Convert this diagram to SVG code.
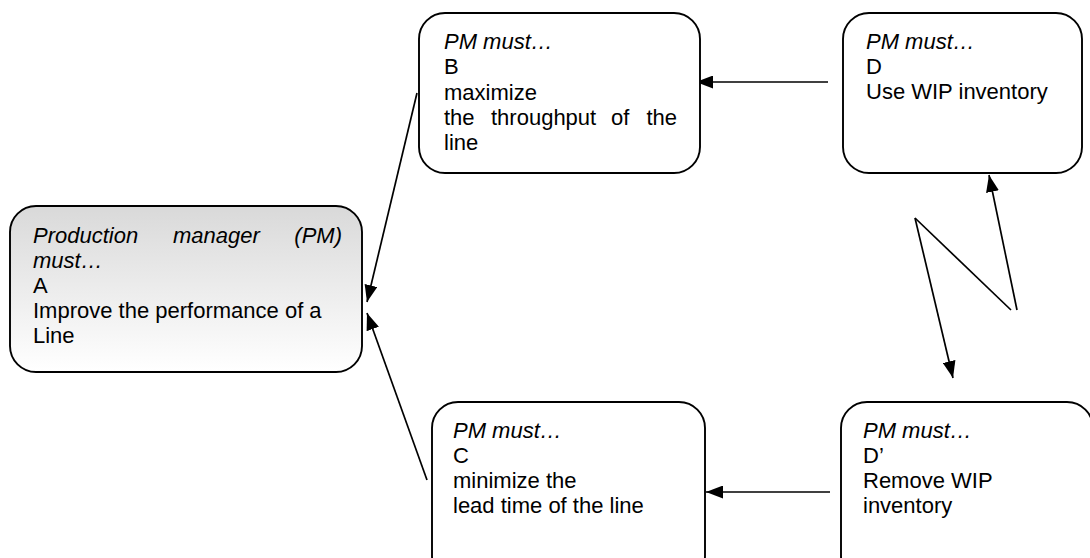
<svg xmlns="http://www.w3.org/2000/svg" width="1090" height="558" viewBox="0 0 1090 558">
<style>
.box{fill:#fff;stroke:#000;stroke-width:1.9}
.t{font-family:"Liberation Sans",Arial,sans-serif;font-size:22px;fill:#000}
.i{font-style:italic}
.c{fill:none;stroke:#000;stroke-width:1.7}
</style>
<defs>
<linearGradient id="g" x1="0" y1="0" x2="0" y2="1">
<stop offset="0" stop-color="#d9d9d9"/>
<stop offset="1" stop-color="#ffffff"/>
</linearGradient>
<marker id="arr" markerWidth="17" markerHeight="13" refX="17" refY="6.5" orient="auto" markerUnits="userSpaceOnUse">
<path d="M0,0 L17,6.5 L0,13 z" fill="#000"/>
</marker>
</defs>
<rect width="1090" height="558" fill="#fff"/>
<g id="connectors">
<line class="c" x1="417" y1="93" x2="367" y2="302" marker-end="url(#arr)"/>
<line class="c" x1="427" y1="480" x2="367" y2="313" marker-end="url(#arr)"/>
<line class="c" x1="828" y1="82" x2="696" y2="82" marker-end="url(#arr)"/>
<line class="c" x1="830" y1="492" x2="706" y2="492" marker-end="url(#arr)"/>
<line class="c" x1="915" y1="218" x2="953" y2="378" marker-end="url(#arr)"/>
<line class="c" x1="915" y1="218" x2="1011" y2="310"/>
<line class="c" x1="1017" y1="310" x2="989" y2="175" marker-end="url(#arr)"/>
</g>
<g id="nodeA">
<rect x="10" y="206" width="352" height="166" rx="26" ry="26" fill="url(#g)" stroke="#000" stroke-width="1.9"/>
<text class="t i" x="33" y="243">Production</text>
<text class="t i" x="173" y="243">manager</text>
<text class="t i" x="342" y="243" text-anchor="end">(PM)</text>
<text class="t i" x="33" y="268">must…</text>
<text class="t" x="33" y="293">A</text>
<text class="t" x="33" y="318">Improve the performance of a</text>
<text class="t" x="33" y="343">Line</text>
</g>
<g id="nodeB">
<rect class="box" x="419" y="13" width="281" height="160" rx="26" ry="26"/>
<text class="t i" x="444" y="49">PM must…</text>
<text class="t" x="444" y="74">B</text>
<text class="t" x="444" y="100">maximize</text>
<text class="t" x="444" y="125">the</text>
<text class="t" x="491" y="125">throughput</text>
<text class="t" x="611" y="125">of</text>
<text class="t" x="677" y="125" text-anchor="end">the</text>
<text class="t" x="444" y="150">line</text>
</g>
<g id="nodeD">
<rect class="box" x="843" y="13" width="239" height="160" rx="26" ry="26"/>
<text class="t i" x="866" y="49">PM must…</text>
<text class="t" x="866" y="74">D</text>
<text class="t" x="866" y="99">Use WIP inventory</text>
</g>
<g id="nodeC">
<rect class="box" x="432" y="402" width="273" height="180" rx="26" ry="26"/>
<text class="t i" x="453" y="438">PM must…</text>
<text class="t" x="453" y="463">C</text>
<text class="t" x="453" y="488">minimize the</text>
<text class="t" x="453" y="513">lead time of the line</text>
</g>
<g id="nodeDp">
<rect class="box" x="841" y="402" width="252" height="180" rx="26" ry="26"/>
<text class="t i" x="863" y="438">PM must…</text>
<text class="t" x="863" y="463">D’</text>
<text class="t" x="863" y="488">Remove WIP</text>
<text class="t" x="863" y="513">inventory</text>
</g>
</svg>
